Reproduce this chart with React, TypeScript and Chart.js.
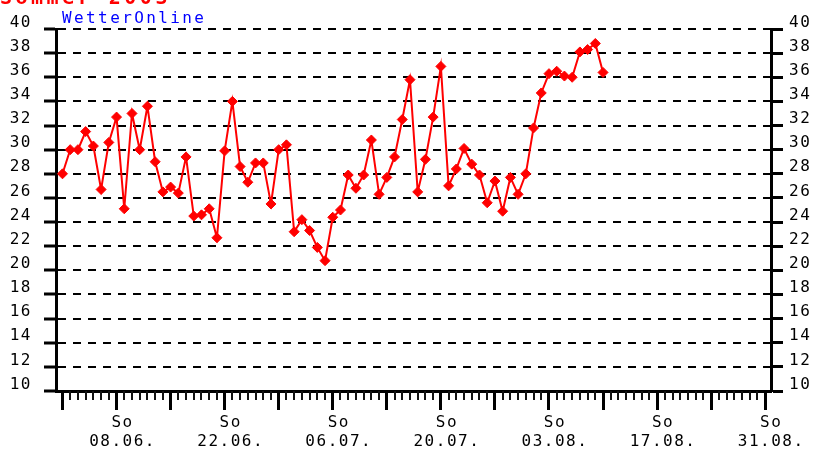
import React, { useEffect, useRef } from 'react';
import { Chart, registerables } from 'chart.js';

Chart.register(...registerables);

// Daily maximum temperature, Sommer 2003 (day 0 = 01.06.)
const temps = [
  28.0, 30.0, 30.0, 31.5, 30.3, 26.7, 30.6, 32.7, 25.1, 33.0,
  30.0, 33.6, 29.0, 26.5, 26.9, 26.4, 29.4, 24.5, 24.6, 25.1,
  22.7, 29.9, 34.0, 28.6, 27.3, 28.9, 28.9, 25.5, 30.0, 30.4,
  23.2, 24.2, 23.3, 21.9, 20.8, 24.4, 25.0, 27.9, 26.8, 27.9,
  30.8, 26.3, 27.7, 29.4, 32.5, 35.8, 26.5, 29.2, 32.7, 36.9,
  27.0, 28.4, 30.1, 28.8, 27.9, 25.6, 27.4, 24.9, 27.7, 26.3,
  28.0, 31.8, 34.7, 36.3, 36.5, 36.1, 36.0, 38.1, 38.3, 38.8,
  36.4,
];

const majorTickDays = [0, 7, 14, 21, 28, 35, 42, 49, 56, 63, 70, 77, 84, 91];
const labelDays = [7, 21, 35, 49, 63, 77, 91];
const labelDates = ['08.06.', '22.06.', '06.07.', '20.07.', '03.08.', '17.08.', '31.08.'];
const weekdayLabel = 'So';
const lastAxisDay = 91;
const xMin = -0.84;
const xMax = 91.75;
const yMin = 10;
const yMax = 40;
const yStep = 2;
const titleText = 'Sommer 2003';
const sourceText = 'WetterOnline';

const MONO = "'DejaVu Sans Mono', monospace";

const decorPlugin = {
  id: 'decor',
  beforeDraw(chart: any) {
    chart.ctx.letterSpacing = '1.5px';
  },
  afterDraw(chart: any) {
    const ctx = chart.ctx;
    const x = chart.scales.x;
    const y0 = chart.chartArea.bottom;
    ctx.save();
    ctx.fillStyle = '#111';
    for (let d = 0; d <= lastAxisDay; d++) {
      if (majorTickDays.indexOf(d) >= 0) continue;
      const px = Math.round(x.getPixelForValue(d));
      ctx.fillRect(px - 1, Math.round(y0), 2, 9);
    }
    ctx.restore();

    ctx.save();
    ctx.letterSpacing = '2.4px';
    ctx.fillStyle = '#0000ff';
    ctx.font = `16px ${MONO}`;
    ctx.textAlign = 'left';
    ctx.textBaseline = 'middle';
    ctx.fillText(sourceText, 62, 19);

    ctx.letterSpacing = '3.5px';
    ctx.fillStyle = '#ff0000';
    ctx.font = `bold 20px ${MONO}`;
    ctx.textBaseline = 'alphabetic';
    ctx.fillText(titleText, 0, 4);
    ctx.restore();
  },
};

export default function App() {
  const canvasRef = useRef<HTMLCanvasElement | null>(null);

  useEffect(() => {
    if (!canvasRef.current) return;
    const font = { family: MONO, size: 16 };
    const chart = new Chart(canvasRef.current, {
      type: 'line',
      data: {
        datasets: [
          {
            data: temps.map((v, i) => ({ x: i, y: v })),
            borderColor: '#ff0000',
            backgroundColor: '#ff0000',
            borderWidth: 2,
            pointStyle: 'rectRot',
            pointRadius: 5,
            pointBorderWidth: 1,
            pointBackgroundColor: '#ff0000',
            pointBorderColor: '#ff0000',
            tension: 0,
            xAxisID: 'x',
            yAxisID: 'y',
          },
        ],
      },
      options: {
        animation: false,
        responsive: false,
        devicePixelRatio: 1,
        layout: { padding: { top: 29, left: 0, right: 0, bottom: 0 } },
        plugins: {
          legend: { display: false },
          tooltip: { enabled: false },
          title: { display: false },
        },
        scales: {
          x: {
            type: 'linear',
            position: 'bottom',
            min: xMin,
            max: xMax,
            afterFit: (s: any) => {
              s.height = 59;
            },
            afterBuildTicks: (s: any) => {
              s.ticks = majorTickDays.map((v) => ({ value: v }));
            },
            grid: {
              drawOnChartArea: false,
              drawTicks: true,
              tickLength: 19,
              tickWidth: 3,
              tickColor: '#000',
              color: '#000',
            },
            border: { display: true, width: 3, color: '#000' },
            ticks: {
              autoSkip: false,
              maxRotation: 0,
              minRotation: 0,
              padding: 3,
              color: '#000',
              labelOffset: 6,
              font: { ...font, lineHeight: 1.2 },
              callback: (v: any) => {
                const i = labelDays.indexOf(Number(v));
                return i >= 0 ? [weekdayLabel, labelDates[i]] : '';
              },
            },
          },
          y: {
            position: 'left',
            min: yMin,
            max: yMax,
            afterFit: (s: any) => {
              s.width = 56;
            },
            ticks: { stepSize: yStep, padding: 12, labelOffset: -6.5, color: '#000', font },
            grid: {
              color: '#000',
              lineWidth: 2,
              tickLength: 12,
              tickWidth: 3,
              tickColor: '#000',
              tickBorderDash: [],
            },
            border: { width: 3, color: '#000', dash: [8, 7] },
          },
          y2: {
            position: 'right',
            min: yMin,
            max: yMax,
            afterFit: (s: any) => {
              s.width = 43;
            },
            ticks: { stepSize: yStep, padding: 6, labelOffset: -6.5, color: '#000', font },
            grid: {
              drawOnChartArea: false,
              tickLength: 12,
              tickWidth: 3,
              tickColor: '#000',
              color: '#000',
            },
            border: { width: 3, color: '#000' },
          },
        },
      } as any,
      plugins: [decorPlugin],
    });
    return () => chart.destroy();
  }, []);

  return (
    <div style={{ position: 'absolute', left: 0, top: 0, width: 814, height: 450 }}>
      <canvas ref={canvasRef} width={814} height={450} style={{ display: 'block' }} />
    </div>
  );
}
